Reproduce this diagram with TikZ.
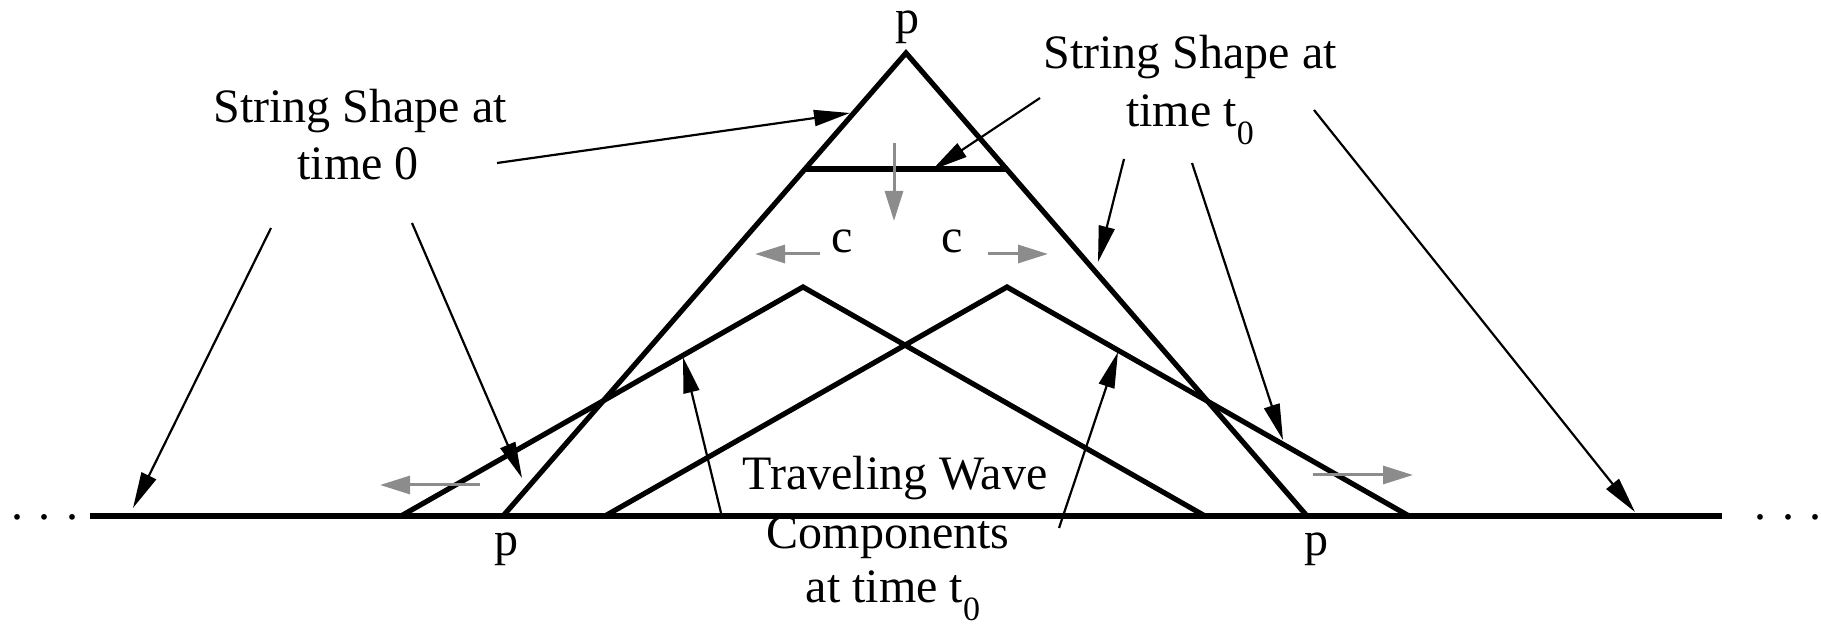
\documentclass[tikz,border=0pt]{standalone}
\usepackage{fontspec}
\setmainfont{Liberation Serif}
\usetikzlibrary{arrows.meta}
\definecolor{arrgray}{RGB}{140,140,140}
\tikzset{
  lbl/.style={font=\fontsize{24}{28}\selectfont, inner sep=0pt, anchor=base},
  wave/.style={line width=2.6pt, line join=miter},
  ptr/.style={line width=1.1pt, -{Triangle[length=18pt,width=8pt]}},
  gptr/.style={draw=arrgray, line width=1.5pt, -{Triangle[length=15pt,width=9pt]}, arrgray},
}
\newcommand{\subnull}{\raisebox{-9pt}{\fontsize{17}{17}\selectfont 0}}
\begin{document}
\begin{tikzpicture}[x=0.5pt,y=-0.5pt]
\useasboundingbox (0,0) rectangle (1821,625);
% geometry
\coordinate (bL) at (90,516);
\coordinate (bR) at (1722,516);
\coordinate (T0) at (503,516);
\coordinate (Tp) at (906,53);
\coordinate (T1) at (1307,516);
\coordinate (Lw0) at (401,516);
\coordinate (Lwp) at (803,287);
\coordinate (Lw1) at (1205,516);
\coordinate (Rw0) at (605,516);
\coordinate (Rwp) at (1007,287);
\coordinate (Rw1) at (1409,516);
\coordinate (F0) at (805,169);
\coordinate (F1) at (1006,169);
\draw[wave] (bL) -- (bR);
\draw[wave] (T0) -- (Tp) -- (T1);
\draw[wave] (Lw0) -- (Lwp) -- (Lw1);
\draw[wave] (Rw0) -- (Rwp) -- (Rw1);
\draw[wave] (F0) -- (F1);
% dots
\node[lbl] (dotsL) at (45,519) {. . .};
\node[lbl] (dotsR) at (1788,519) {. . .};
% labels
\node[lbl] (ptop) at (907,34) {p};
\node[lbl] (pL) at (506,555) {p};
\node[lbl] (pR) at (1316,555) {p};
\node[lbl] (l0a) at (360,123) {String Shape at};
\node[lbl] (l0b) at (358,180) {time 0};
\node[lbl] (l1a) at (1190,69) {String Shape at};
\node[lbl] (l1b) at (1190,127) {time t\subnull};
\node[lbl] (l2a) at (895,490) {Traveling Wave};
\node[lbl] (l2b) at (888,548) {Components};
\node[lbl] (l2c) at (893,603) {at time t\subnull};
\node[lbl] (cL) at (842,253) {c};
\node[lbl] (cR) at (952,253) {c};
% black pointer arrows
\coordinate (s1) at (497,163);  \coordinate (e1) at (850,113);
\coordinate (s2) at (271,228);  \coordinate (e2) at (133,508);
\coordinate (s3) at (412,223);  \coordinate (e3) at (522,478);
\coordinate (s4) at (1040,98);  \coordinate (e4) at (932,170);
\coordinate (s5) at (1124,159); \coordinate (e5) at (1098,262);
\coordinate (s6) at (1192,163); \coordinate (e6) at (1283,440);
\coordinate (s7) at (1314,110); \coordinate (e7) at (1635,512);
\coordinate (s8) at (722,517);  \coordinate (e8) at (683,357);
\coordinate (s9) at (1059,528); \coordinate (e9) at (1118,352);
\foreach \i in {1,...,9} { \draw[ptr] (s\i) -- (e\i); }
% gray motion arrows
\coordinate (g1s) at (894,143);  \coordinate (g1e) at (894,221);
\coordinate (g2s) at (820,254);  \coordinate (g2e) at (755,254);
\coordinate (g3s) at (988,254);  \coordinate (g3e) at (1048,254);
\coordinate (g4s) at (480,485);  \coordinate (g4e) at (380,485);
\coordinate (g5s) at (1313,475); \coordinate (g5e) at (1413,475);
\foreach \i in {1,...,5} { \draw[gptr] (g\i s) -- (g\i e); }
\end{tikzpicture}
\end{document}
